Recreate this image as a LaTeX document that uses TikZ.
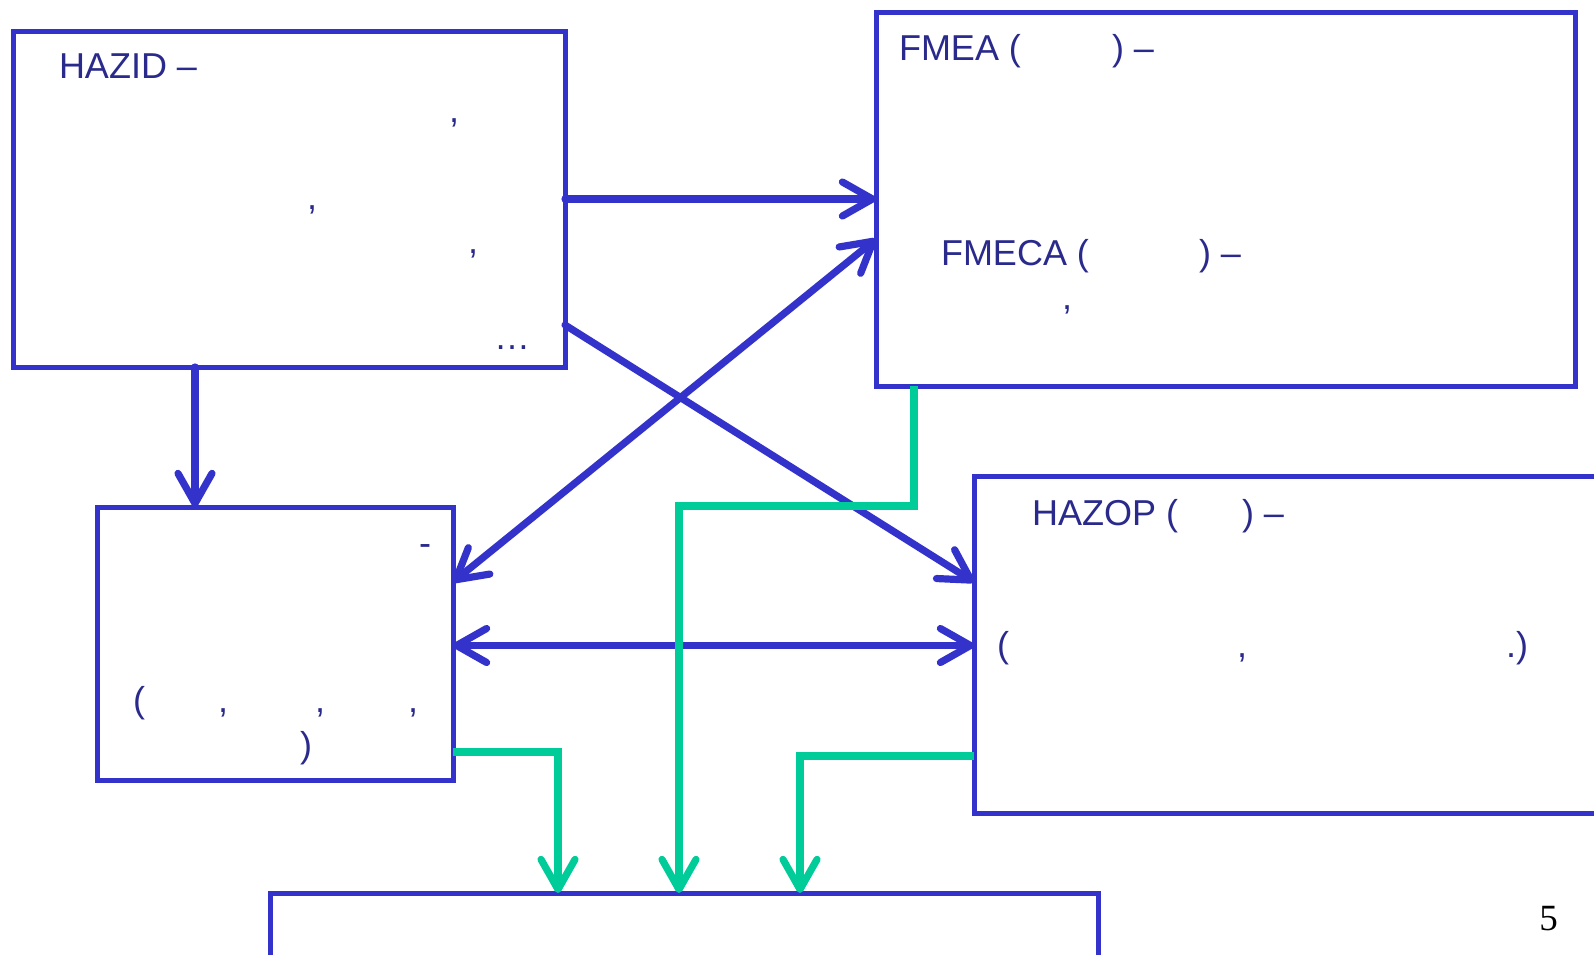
\documentclass[tikz,border=0pt]{standalone}
\usepackage{fontspec}
\setmainfont{Liberation Sans}
\newfontfamily\serifnum{Liberation Serif}
\usetikzlibrary{arrows.meta}
\definecolor{boxblue}{RGB}{51,51,204}
\definecolor{txtblue}{RGB}{42,42,140}
\definecolor{lgreen}{RGB}{0,204,153}
\begin{document}
\begin{tikzpicture}[x=0.5pt,y=-0.5pt,
  box/.style={draw=boxblue,line width=2.5pt,rectangle,anchor=north west,inner sep=0pt,outer sep=0pt},
  lbl/.style={anchor=base west,inner sep=0pt,outer sep=0pt,text=txtblue,font=\fontsize{18}{22}\selectfont},
  barb/.tip={Straight Barb[length=15pt,width=17pt,line cap=round,line join=round]},
  bluearrow/.style={draw=boxblue,line width=3.6pt,line cap=round},
  greenline/.style={draw=lgreen,line width=3.6pt,line join=miter}
]
\useasboundingbox[fill=white] (0,0) rectangle (1594,954);

% boxes
\node[box,minimum width=276pt,minimum height=168pt] (hazid) at (13,31) {};
\node[box,minimum width=349.5pt,minimum height=187pt] (fmea) at (876,12) {};
\node[box,minimum width=178pt,minimum height=136.5pt] (mid) at (97,507) {};
\node[box,minimum width=333pt,minimum height=168.5pt] (hazop) at (974,476) {};
\node[box,minimum width=414pt,minimum height=53.5pt] (bottom) at (270,893) {};

% texts in HAZID box
\node[lbl] (h0) at (59,78) {HAZID –};
\node[lbl] (h1) at (449,122) {,};
\node[lbl] (h2) at (307,209) {,};
\node[lbl] (h3) at (468,253) {,};
\node[lbl] (h4) at (494,349) {…};

% texts in FMEA box
\node[lbl] (f0) at (899,60) {FMEA (};
\node[lbl] (f1) at (1112,60) {) –};
\node[lbl] (f2) at (941,265) {FMECA (};
\node[lbl] (f3) at (1199,265) {) –};
\node[lbl] (f4) at (1062,309) {,};

% texts in middle box
\node[lbl] (m0) at (419,555) {-};
\node[lbl] (m1) at (133,712) {(};
\node[lbl] (m2) at (218,712) {,};
\node[lbl] (m3) at (315,712) {,};
\node[lbl] (m4) at (408,712) {,};
\node[lbl] (m5) at (300,757) {)};

% texts in HAZOP box
\node[lbl] (z0) at (1032,525) {HAZOP (};
\node[lbl] (z1) at (1242,525) {) –};
\node[lbl] (z2) at (997,657) {(};
\node[lbl] (z3) at (1237,657) {,};
\node[lbl] (z4) at (1506,657) {.)};

% page number
\node[anchor=base west,inner sep=0pt,font=\serifnum\fontsize{18.5}{22}\selectfont] (pg) at (1539,930) {5};

% blue connectors
\draw[bluearrow,-barb] (hazid.east) -- (fmea.west);
\draw[bluearrow,-barb] ([xshift=91pt]hazid.south west) -- ([xshift=49pt]mid.north west);
\draw[bluearrow,-barb] ([yshift=21pt]hazid.south east) -- ([yshift=-53pt]hazop.north west);
\draw[bluearrow,barb-barb] ([yshift=-20pt]fmea.west) -- ([yshift=-37.5pt]mid.north east);
\draw[bluearrow,barb-barb] ([yshift=-1pt]mid.east) -- ([yshift=-1pt]mid.east -| hazop.west);

% green connectors
\draw[greenline,-barb] ([xshift=19pt]fmea.south west) -- ++(0,120) -| ([xshift=204.5pt]bottom.north west);
\draw[greenline,-barb] ([yshift=14pt]mid.south east) -| ([xshift=144pt]bottom.north west);
\draw[greenline,-barb] ([yshift=28.5pt]hazop.south west) -| ([xshift=265pt]bottom.north west);
\end{tikzpicture}
\end{document}
